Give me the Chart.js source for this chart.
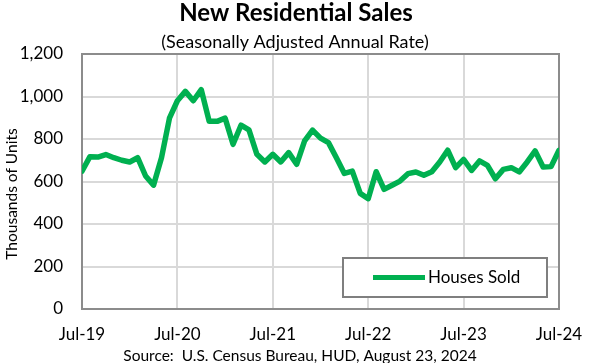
<!DOCTYPE html>
<html><head><meta charset="utf-8">
<script src="https://cdn.jsdelivr.net/npm/chart.js@4.4.1/dist/chart.umd.min.js"></script>
<style>html,body{margin:0;padding:0;background:#fff}#wrap{width:600px;height:363px}</style>
</head><body><div id="wrap"><canvas id="c" width="600" height="363"></canvas></div>
<script>
const titleText = "New Residential Sales";
const subtitleText = "(Seasonally Adjusted Annual Rate)";
const sourceText = "Source:  U.S. Census Bureau, HUD, August 23, 2024";
const seriesName = "Houses Sold";
const yAxisTitle = "Thousands of Units";
const tickLabels = ["Jul-19","Jul-20","Jul-21","Jul-22","Jul-23","Jul-24"];
// monthly, Jul-2019 .. Jul-2024
const housesSold = [
  649,717,715,727,712,700,692,712,626,583,712,898,
  980,1024,980,1032,883,883,898,775,865,843,728,692,
  728,692,736,681,791,842,804,783,712,638,649,544,
  519,646,563,582,602,637,645,629,646,692,747,665,
  704,652,697,676,613,657,665,645,692,744,668,670,
  747
];
const points = housesSold.map((v,i)=>({x:i,y:v}));
const FONT = "Lato, 'Open Sans', sans-serif";

const deco = {
  id:'deco',
  beforeDatasetsDraw(chart){
    const a = chart.chartArea, ctx = chart.ctx;
    ctx.save();
    ctx.strokeStyle = '#8c8c8c'; ctx.lineWidth = 2;
    ctx.strokeRect(a.left, a.top, a.right-a.left, a.bottom-a.top);
    ctx.restore();
  },
  afterDraw(chart){
    const a = chart.chartArea, ctx = chart.ctx;
    ctx.save();
    ctx.fillStyle = '#000'; ctx.textAlign='center'; ctx.textBaseline='middle';
    ctx.font = "bold 24px " + FONT;
    ctx.fillText(titleText, 296, 13);
    ctx.font = "18px " + FONT;
    ctx.fillText(subtitleText, 295, 42);
    ctx.font = "15.5px " + FONT;
    ctx.fillText(sourceText, 300, 356);
    // y axis title
    ctx.save();
    ctx.translate(12, 194); ctx.rotate(-Math.PI/2);
    ctx.font = "15.5px " + FONT;
    ctx.fillText(yAxisTitle, 0, 0);
    ctx.restore();
    // legend
    const lx = a.right - 216, ly = a.bottom - 51, lw = 204, lh = 39;
    ctx.fillStyle = '#fff'; ctx.fillRect(lx, ly, lw, lh);
    ctx.strokeStyle = '#7f7f7f'; ctx.lineWidth = 2; ctx.strokeRect(lx, ly, lw, lh);
    const ds = chart.data.datasets[0];
    ctx.strokeStyle = ds.borderColor; ctx.lineWidth = 5;
    ctx.beginPath(); ctx.moveTo(lx+30, ly+lh/2); ctx.lineTo(lx+82, ly+lh/2); ctx.stroke();
    ctx.fillStyle = '#000'; ctx.textAlign='left'; ctx.font = "17px " + FONT;
    ctx.fillText(ds.label, lx+85, ly+lh/2);
    ctx.restore();
  }
};

new Chart(document.getElementById('c'), {
  type:'line',
  data:{datasets:[{label:seriesName, data:points, borderColor:'#00b050', borderWidth:5.5,
    pointRadius:0, tension:0, fill:false, borderJoinStyle:'round', borderCapStyle:'round'}]},
  options:{
    responsive:false, animation:false,
    layout:{padding:{top:54,right:41,bottom:0,left:0}},
    plugins:{legend:{display:false}, tooltip:{enabled:false}, title:{display:false}},
    scales:{
      x:{type:'linear', min:0, max:60,
        afterFit(s){s.height=54;},
        ticks:{stepSize:12, autoSkip:false, maxRotation:0, padding:15, color:'#000',
          font:{family:FONT,size:17},
          callback:(v)=> (v%12===0 ? tickLabels[v/12] : '')},
        grid:{color:'#d9d9d9', lineWidth:2, drawTicks:false},
        border:{display:false}},
      y:{min:0, max:1200,
        afterFit(s){s.width=82;},
        ticks:{stepSize:200, padding:19, color:'#000', font:{family:FONT,size:17},
          callback:(v)=> v.toLocaleString('en-US')},
        grid:{color:'#d9d9d9', lineWidth:2, drawTicks:false},
        border:{display:false}}
    }
  },
  plugins:[deco]
});
</script></body></html>
